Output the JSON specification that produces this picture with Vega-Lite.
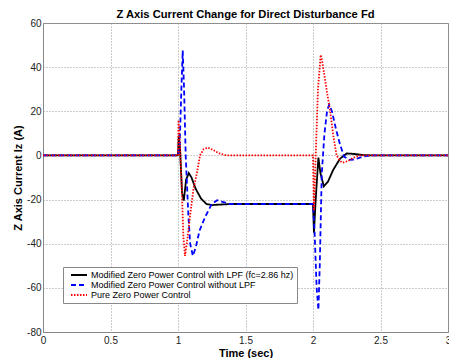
{
  "$schema": "https://vega.github.io/schema/vega-lite/v6.json",
  "width": 405,
  "height": 309,
  "autosize": {"type": "none"},
  "padding": {"left": 43, "top": 23, "right": 1, "bottom": 26},
  "background": "white",
  "title": {"text": "Z Axis Current Change for Direct Disturbance Fd", "fontSize": 11.2, "fontWeight": "bold", "font": "Liberation Sans", "color": "black", "offset": -2},
  "config": {
    "view": {"stroke": "#888888", "strokeWidth": 1},
    "axis": {"labelFont": "Liberation Sans", "labelFontSize": 10, "labelColor": "#222222", "titleFont": "Liberation Sans", "titleFontSize": 11, "titleFontWeight": "bold", "titleColor": "black", "domainColor": "#888888", "ticks": false, "gridColor": "#999999", "gridDash": [1, 2], "gridWidth": 1}
  },
  "data": {"values": [
    {"s": "Modified Zero Power Control with LPF (fc=2.86 hz)", "t": 0, "v": 0},
    {"s": "Modified Zero Power Control with LPF (fc=2.86 hz)", "t": 1.0, "v": 0},
    {"s": "Modified Zero Power Control with LPF (fc=2.86 hz)", "t": 1.006, "v": 9},
    {"s": "Modified Zero Power Control with LPF (fc=2.86 hz)", "t": 1.015, "v": 3},
    {"s": "Modified Zero Power Control with LPF (fc=2.86 hz)", "t": 1.03, "v": -17},
    {"s": "Modified Zero Power Control with LPF (fc=2.86 hz)", "t": 1.043, "v": -20.5},
    {"s": "Modified Zero Power Control with LPF (fc=2.86 hz)", "t": 1.06, "v": -11},
    {"s": "Modified Zero Power Control with LPF (fc=2.86 hz)", "t": 1.08, "v": -8},
    {"s": "Modified Zero Power Control with LPF (fc=2.86 hz)", "t": 1.1, "v": -10},
    {"s": "Modified Zero Power Control with LPF (fc=2.86 hz)", "t": 1.13, "v": -15},
    {"s": "Modified Zero Power Control with LPF (fc=2.86 hz)", "t": 1.17, "v": -19.5},
    {"s": "Modified Zero Power Control with LPF (fc=2.86 hz)", "t": 1.21, "v": -22},
    {"s": "Modified Zero Power Control with LPF (fc=2.86 hz)", "t": 1.25, "v": -22.5},
    {"s": "Modified Zero Power Control with LPF (fc=2.86 hz)", "t": 1.3, "v": -22.3},
    {"s": "Modified Zero Power Control with LPF (fc=2.86 hz)", "t": 1.4, "v": -22},
    {"s": "Modified Zero Power Control with LPF (fc=2.86 hz)", "t": 2.0, "v": -22},
    {"s": "Modified Zero Power Control with LPF (fc=2.86 hz)", "t": 2.007, "v": -35},
    {"s": "Modified Zero Power Control with LPF (fc=2.86 hz)", "t": 2.02, "v": -20},
    {"s": "Modified Zero Power Control with LPF (fc=2.86 hz)", "t": 2.04, "v": -1},
    {"s": "Modified Zero Power Control with LPF (fc=2.86 hz)", "t": 2.055, "v": -8},
    {"s": "Modified Zero Power Control with LPF (fc=2.86 hz)", "t": 2.08, "v": -14},
    {"s": "Modified Zero Power Control with LPF (fc=2.86 hz)", "t": 2.11, "v": -12},
    {"s": "Modified Zero Power Control with LPF (fc=2.86 hz)", "t": 2.15, "v": -6.5},
    {"s": "Modified Zero Power Control with LPF (fc=2.86 hz)", "t": 2.2, "v": -1.5},
    {"s": "Modified Zero Power Control with LPF (fc=2.86 hz)", "t": 2.25, "v": 0.9},
    {"s": "Modified Zero Power Control with LPF (fc=2.86 hz)", "t": 2.3, "v": 0.7},
    {"s": "Modified Zero Power Control with LPF (fc=2.86 hz)", "t": 2.38, "v": 0.1},
    {"s": "Modified Zero Power Control with LPF (fc=2.86 hz)", "t": 2.5, "v": 0},
    {"s": "Modified Zero Power Control with LPF (fc=2.86 hz)", "t": 3, "v": 0},
    {"s": "Modified Zero Power Control without LPF", "t": 0, "v": 0},
    {"s": "Modified Zero Power Control without LPF", "t": 1.0, "v": 0},
    {"s": "Modified Zero Power Control without LPF", "t": 1.012, "v": 4},
    {"s": "Modified Zero Power Control without LPF", "t": 1.025, "v": 30},
    {"s": "Modified Zero Power Control without LPF", "t": 1.035, "v": 47.5},
    {"s": "Modified Zero Power Control without LPF", "t": 1.045, "v": 30},
    {"s": "Modified Zero Power Control without LPF", "t": 1.057, "v": 0},
    {"s": "Modified Zero Power Control without LPF", "t": 1.075, "v": -25},
    {"s": "Modified Zero Power Control without LPF", "t": 1.09, "v": -40},
    {"s": "Modified Zero Power Control without LPF", "t": 1.11, "v": -45.5},
    {"s": "Modified Zero Power Control without LPF", "t": 1.13, "v": -42},
    {"s": "Modified Zero Power Control without LPF", "t": 1.16, "v": -34},
    {"s": "Modified Zero Power Control without LPF", "t": 1.2, "v": -28},
    {"s": "Modified Zero Power Control without LPF", "t": 1.25, "v": -22},
    {"s": "Modified Zero Power Control without LPF", "t": 1.29, "v": -20.3},
    {"s": "Modified Zero Power Control without LPF", "t": 1.33, "v": -21},
    {"s": "Modified Zero Power Control without LPF", "t": 1.38, "v": -22},
    {"s": "Modified Zero Power Control without LPF", "t": 1.5, "v": -22},
    {"s": "Modified Zero Power Control without LPF", "t": 2.0, "v": -22},
    {"s": "Modified Zero Power Control without LPF", "t": 2.012, "v": -35},
    {"s": "Modified Zero Power Control without LPF", "t": 2.027, "v": -60},
    {"s": "Modified Zero Power Control without LPF", "t": 2.04, "v": -70},
    {"s": "Modified Zero Power Control without LPF", "t": 2.05, "v": -50},
    {"s": "Modified Zero Power Control without LPF", "t": 2.065, "v": -8},
    {"s": "Modified Zero Power Control without LPF", "t": 2.085, "v": 10},
    {"s": "Modified Zero Power Control without LPF", "t": 2.105, "v": 20.5},
    {"s": "Modified Zero Power Control without LPF", "t": 2.12, "v": 23},
    {"s": "Modified Zero Power Control without LPF", "t": 2.14, "v": 20},
    {"s": "Modified Zero Power Control without LPF", "t": 2.17, "v": 12},
    {"s": "Modified Zero Power Control without LPF", "t": 2.2, "v": 5},
    {"s": "Modified Zero Power Control without LPF", "t": 2.23, "v": -0.5},
    {"s": "Modified Zero Power Control without LPF", "t": 2.27, "v": -2},
    {"s": "Modified Zero Power Control without LPF", "t": 2.31, "v": -1.8},
    {"s": "Modified Zero Power Control without LPF", "t": 2.36, "v": -0.7},
    {"s": "Modified Zero Power Control without LPF", "t": 2.42, "v": 0},
    {"s": "Modified Zero Power Control without LPF", "t": 3, "v": 0},
    {"s": "Pure Zero Power Control", "t": 0, "v": 0},
    {"s": "Pure Zero Power Control", "t": 1.0, "v": 0},
    {"s": "Pure Zero Power Control", "t": 1.004, "v": 16},
    {"s": "Pure Zero Power Control", "t": 1.012, "v": 8},
    {"s": "Pure Zero Power Control", "t": 1.027, "v": -13},
    {"s": "Pure Zero Power Control", "t": 1.04, "v": -37},
    {"s": "Pure Zero Power Control", "t": 1.052, "v": -45.5},
    {"s": "Pure Zero Power Control", "t": 1.067, "v": -39},
    {"s": "Pure Zero Power Control", "t": 1.09, "v": -27},
    {"s": "Pure Zero Power Control", "t": 1.115, "v": -15},
    {"s": "Pure Zero Power Control", "t": 1.14, "v": -8},
    {"s": "Pure Zero Power Control", "t": 1.163, "v": 0},
    {"s": "Pure Zero Power Control", "t": 1.19, "v": 2.8},
    {"s": "Pure Zero Power Control", "t": 1.22, "v": 3.6},
    {"s": "Pure Zero Power Control", "t": 1.26, "v": 2.5},
    {"s": "Pure Zero Power Control", "t": 1.3, "v": 1},
    {"s": "Pure Zero Power Control", "t": 1.36, "v": 0},
    {"s": "Pure Zero Power Control", "t": 2.0, "v": 0},
    {"s": "Pure Zero Power Control", "t": 2.007, "v": -25},
    {"s": "Pure Zero Power Control", "t": 2.02, "v": 0},
    {"s": "Pure Zero Power Control", "t": 2.037, "v": 30},
    {"s": "Pure Zero Power Control", "t": 2.057, "v": 45.5},
    {"s": "Pure Zero Power Control", "t": 2.07, "v": 42},
    {"s": "Pure Zero Power Control", "t": 2.1, "v": 30},
    {"s": "Pure Zero Power Control", "t": 2.126, "v": 20.5},
    {"s": "Pure Zero Power Control", "t": 2.15, "v": 9},
    {"s": "Pure Zero Power Control", "t": 2.175, "v": 0},
    {"s": "Pure Zero Power Control", "t": 2.2, "v": -2.5},
    {"s": "Pure Zero Power Control", "t": 2.22, "v": -3.3},
    {"s": "Pure Zero Power Control", "t": 2.26, "v": -2.5},
    {"s": "Pure Zero Power Control", "t": 2.3, "v": -1},
    {"s": "Pure Zero Power Control", "t": 2.35, "v": 0},
    {"s": "Pure Zero Power Control", "t": 3, "v": 0}
  ]},
  "mark": {"type": "line", "strokeWidth": 1.8, "clip": true},
  "encoding": {
    "x": {"field": "t", "type": "quantitative", "scale": {"domain": [0, 3], "nice": false, "zero": false}, "axis": {"title": "Time (sec)", "values": [0, 0.5, 1, 1.5, 2, 2.5, 3], "labelExpr": "'' + datum.value", "labelPadding": 3, "titlePadding": 2, "labelFlush": false}},
    "y": {"field": "v", "type": "quantitative", "scale": {"domain": [-80, 60], "nice": false, "zero": false}, "axis": {"title": "Z Axis Current Iz (A)", "values": [-80, -60, -40, -20, 0, 20, 40, 60], "labelExpr": "'' + datum.value", "labelPadding": 2, "titlePadding": 3}},
    "color": {"field": "s", "type": "nominal", "sort": null, "scale": {"domain": ["Modified Zero Power Control with LPF (fc=2.86 hz)", "Modified Zero Power Control without LPF", "Pure Zero Power Control"], "range": ["#000000", "#0000ff", "#ff0000"]},
      "legend": {"title": null, "orient": "none", "legendX": 20, "legendY": 244, "fillColor": "white", "strokeColor": "#888888", "padding": 3, "labelFont": "Liberation Sans", "labelFontSize": 9, "labelLimit": 500, "labelColor": "black", "symbolType": "M-2,0H2", "symbolSize": 64, "symbolStrokeWidth": 1.8, "symbolOffset": 8, "rowPadding": 0, "labelOffset": 7}},
    "strokeDash": {"field": "s", "type": "nominal", "sort": null, "scale": {"domain": ["Modified Zero Power Control with LPF (fc=2.86 hz)", "Modified Zero Power Control without LPF", "Pure Zero Power Control"], "range": [[1, 0], [5, 3], [1.5, 1.5]]},
      "legend": {"title": null, "orient": "none", "legendX": 20, "legendY": 244, "fillColor": "white", "strokeColor": "#888888", "padding": 3, "labelFont": "Liberation Sans", "labelFontSize": 9, "labelLimit": 500, "labelColor": "black", "symbolType": "M-2,0H2", "symbolSize": 64, "symbolStrokeWidth": 1.8, "symbolOffset": 8, "rowPadding": 0, "labelOffset": 7}}
  }
}
